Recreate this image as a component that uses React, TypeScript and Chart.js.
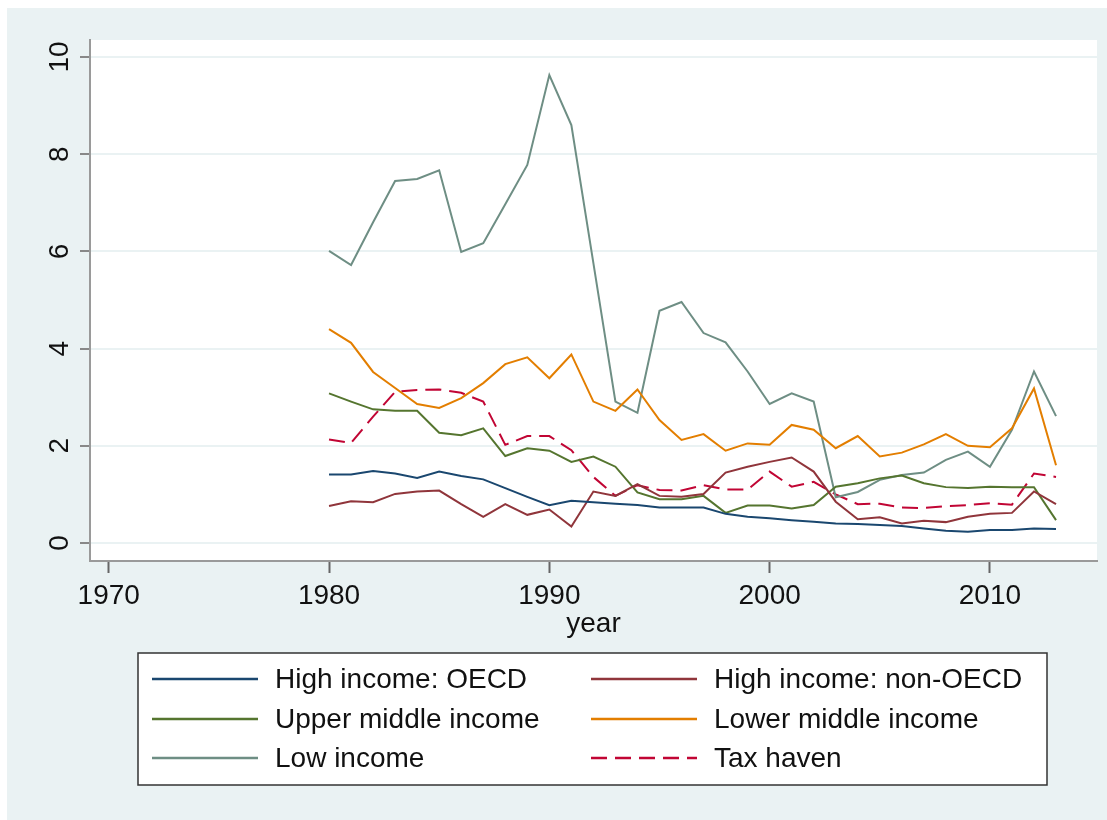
import React, { useEffect, useRef } from "react";
import { Chart, registerables } from "chart.js";

Chart.register(...registerables);

const years = [
  1980, 1981, 1982, 1983, 1984, 1985, 1986, 1987, 1988, 1989,
  1990, 1991, 1992, 1993, 1994, 1995, 1996, 1997, 1998, 1999,
  2000, 2001, 2002, 2003, 2004, 2005, 2006, 2007, 2008, 2009,
  2010, 2011, 2012, 2013,
];

const highOecd = [
  1.41, 1.41, 1.48, 1.43, 1.34, 1.47, 1.38, 1.31, 1.13, 0.95,
  0.78, 0.87, 0.84, 0.81, 0.78, 0.73, 0.73, 0.73, 0.6, 0.54,
  0.51, 0.47, 0.44, 0.4, 0.39, 0.37, 0.35, 0.3, 0.25, 0.23,
  0.27, 0.27, 0.3, 0.29,
];

const highNonOecd = [
  0.76, 0.86, 0.84, 1.01, 1.06, 1.08, 0.8, 0.54, 0.8, 0.58,
  0.69, 0.34, 1.06, 0.97, 1.21, 0.97, 0.95, 1.01, 1.45, 1.57,
  1.67, 1.76, 1.47, 0.85, 0.49, 0.53, 0.4, 0.46, 0.43, 0.54,
  0.6, 0.62, 1.06, 0.8,
];

const upperMiddle = [
  3.08, 2.91, 2.75, 2.72, 2.72, 2.27, 2.22, 2.36, 1.79, 1.95,
  1.9, 1.67, 1.78, 1.57, 1.04, 0.9, 0.9, 0.97, 0.62, 0.77,
  0.77, 0.71, 0.78, 1.16, 1.23, 1.33, 1.39, 1.23, 1.15, 1.13,
  1.16, 1.15, 1.15, 0.47,
];

const lowerMiddle = [
  4.4, 4.12, 3.52, 3.19, 2.86, 2.78, 2.98, 3.29, 3.68, 3.82,
  3.39, 3.88, 2.91, 2.72, 3.16, 2.53, 2.12, 2.24, 1.9, 2.05,
  2.02, 2.43, 2.33, 1.95, 2.2, 1.78, 1.86, 2.03, 2.24, 2.0,
  1.97, 2.36, 3.18, 1.6,
];

const lowIncome = [
  6.01, 5.72, 6.6, 7.45, 7.49, 7.67, 5.99, 6.17, 6.97, 7.78,
  9.63, 8.6, 5.76, 2.91, 2.68, 4.78, 4.96, 4.32, 4.13, 3.53,
  2.86, 3.08, 2.91, 0.94, 1.05, 1.3, 1.4, 1.45, 1.71, 1.88,
  1.57, 2.33, 3.53, 2.61,
];

const taxHaven = [
  2.13, 2.06, 2.6, 3.11, 3.15, 3.16, 3.09, 2.91, 2.02, 2.2,
  2.2, 1.91, 1.36, 0.97, 1.19, 1.09, 1.08, 1.19, 1.1, 1.1,
  1.47, 1.16, 1.26, 1.0, 0.8, 0.81, 0.73, 0.72, 0.76, 0.78,
  0.82, 0.79, 1.43, 1.36,
];

const seriesNames = [
  "High income: OECD",
  "High income: non-OECD",
  "Upper middle income",
  "Lower middle income",
  "Low income",
  "Tax haven",
];

const xTicks = [1970, 1980, 1990, 2000, 2010];
const yTicks = [0, 2, 4, 6, 8, 10];

const FONT = "'Liberation Sans', Arial, sans-serif";
const BG = "#eaf2f3";

// Stata s2color-like palette
const palette = ["#1a476f", "#90353b", "#55752f", "#e37e00", "#6e8e84", "#c10534"];

export default function App() {
  const canvasRef = useRef<HTMLCanvasElement | null>(null);

  useEffect(() => {
    const canvas = canvasRef.current;
    if (!canvas) return;

    const seriesValues = [highOecd, highNonOecd, upperMiddle, lowerMiddle, lowIncome, taxHaven];

    const datasets = seriesValues.map((vals, i) => ({
      label: seriesNames[i],
      data: years.map((yr, j) => ({ x: yr, y: vals[j] })),
      borderColor: palette[i],
      backgroundColor: palette[i],
      borderWidth: 2,
      borderDash: i === 5 ? [16, 8] : [],
      pointRadius: 0,
      tension: 0,
      fill: false,
    }));

    const backdrop = {
      id: "backdrop",
      beforeDraw(chart: any) {
        const { ctx, chartArea } = chart;
        ctx.save();
        ctx.fillStyle = BG;
        ctx.fillRect(0, 0, chart.width, chart.height);
        ctx.fillStyle = "#ffffff";
        ctx.fillRect(chartArea.left, chartArea.top, chartArea.right - chartArea.left, chartArea.bottom - chartArea.top);
        ctx.restore();
      },
    };

    // rotated y tick labels, axis title and the boxed two-column legend
    const annotations = {
      id: "annotations",
      afterDraw(chart: any) {
        const { ctx, chartArea } = chart;
        const yScale = chart.scales.y;
        ctx.save();
        ctx.fillStyle = "#111";
        ctx.font = `28px ${FONT}`;
        yScale.ticks.forEach((t: any) => {
          const py = yScale.getPixelForValue(t.value);
          ctx.save();
          ctx.translate(yScale.right - 22, py);
          ctx.rotate(-Math.PI / 2);
          ctx.textAlign = "center";
          ctx.textBaseline = "alphabetic";
          ctx.fillText(String(t.value), 0, 0);
          ctx.restore();
        });

        // x axis title
        ctx.textAlign = "center";
        ctx.textBaseline = "alphabetic";
        ctx.fillText("year", (chartArea.left + chartArea.right) / 2, 624);

        // legend box
        const bx = 131, by = 645, bw = 909, bh = 132;
        ctx.fillStyle = "#ffffff";
        ctx.fillRect(bx, by, bw, bh);
        ctx.strokeStyle = "#333";
        ctx.lineWidth = 1.5;
        ctx.strokeRect(bx, by, bw, bh);

        const colLine = [145, 584];
        const rowY = [671, 711, 750];
        chart.data.datasets.forEach((ds: any, i: number) => {
          const col = i % 2;
          const row = Math.floor(i / 2);
          const x0 = colLine[col];
          const y0 = rowY[row];
          ctx.beginPath();
          ctx.strokeStyle = ds.borderColor;
          ctx.lineWidth = 2.5;
          ctx.setLineDash(ds.borderDash || []);
          ctx.moveTo(x0, y0);
          ctx.lineTo(x0 + 106, y0);
          ctx.stroke();
          ctx.setLineDash([]);
          ctx.fillStyle = "#111";
          ctx.textAlign = "left";
          ctx.textBaseline = "middle";
          ctx.fillText(ds.label, x0 + 123, y0 + 1);
        });
        ctx.restore();
      },
    };

    const chart = new Chart(canvas, {
      type: "line",
      data: { datasets },
      plugins: [backdrop, annotations],
      options: {
        responsive: false,
        animation: false,
        layout: { padding: { top: 32, right: 10, left: 0, bottom: 180 } },
        plugins: {
          legend: { display: false },
          tooltip: { enabled: false },
        },
        scales: {
          x: {
            type: "linear",
            min: 1969.15,
            max: 2014.86,
            afterBuildTicks(scale: any) {
              scale.ticks = xTicks.map((v) => ({ value: v }));
            },
            afterFit(scale: any) {
              scale.height = 79;
            },
            grid: {
              drawOnChartArea: false,
              drawTicks: true,
              tickLength: 12,
              tickColor: "#666",
              tickWidth: 2,
            },
            border: { display: true, color: "#9a9a9a", width: 2 },
            ticks: {
              color: "#111",
              font: { family: FONT, size: 28 },
              padding: 6,
              maxRotation: 0,
              minRotation: 0,
              callback: (v: any) => String(v),
            },
          },
          y: {
            type: "linear",
            min: -0.37,
            max: 10.35,
            afterBuildTicks(scale: any) {
              scale.ticks = yTicks.map((v) => ({ value: v }));
            },
            afterFit(scale: any) {
              scale.width = 83;
            },
            grid: {
              color: BG,
              lineWidth: 2,
              drawTicks: true,
              tickLength: 10,
              tickColor: "#888",
              tickWidth: 2,
            },
            border: { display: true, color: "#9a9a9a", width: 2 },
            ticks: {
              color: "rgba(0,0,0,0)",
              font: { family: FONT, size: 28 },
            },
          },
        },
      },
    });

    return () => chart.destroy();
  }, []);

  return (
    <div style={{ position: "absolute", left: 7, top: 8, width: 1100, height: 812 }}>
      <canvas ref={canvasRef} width={1100} height={812} style={{ display: "block" }} />
    </div>
  );
}
